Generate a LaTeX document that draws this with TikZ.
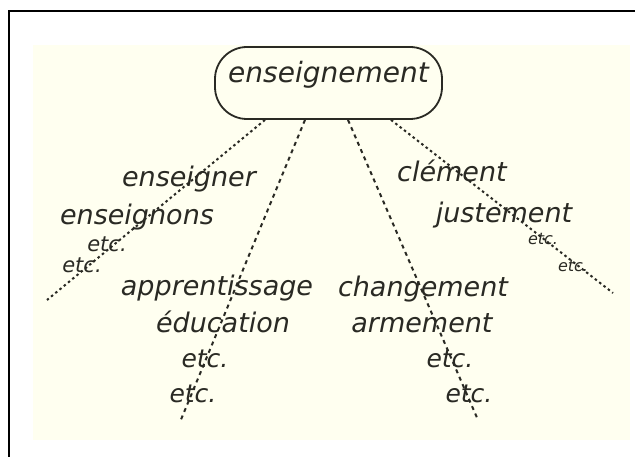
\documentclass[tikz,border=0pt]{standalone}
\usepackage{fontspec}
\newfontfamily\labfont{DejaVu Sans}
\usetikzlibrary{calc}
\definecolor{cream}{RGB}{255,255,240}
\definecolor{ink}{RGB}{42,42,36}
\begin{document}
\begin{tikzpicture}[x=1pt,y=-1pt,
  lab/.style={font=\labfont\itshape\fontsize{27}{30}\selectfont, text=ink, anchor=base, inner sep=0pt},
  midetc/.style={lab, font=\labfont\itshape\fontsize{25}{28}\selectfont},
  leftetc/.style={lab, font=\labfont\itshape\fontsize{21}{23}\selectfont},
  smalletc/.style={lab, font=\labfont\itshape\fontsize{16}{18}\selectfont},
  topbox/.style={draw=ink, line width=1.8pt, rounded corners=32pt, minimum width=227pt, minimum height=72pt,
    font=\labfont\itshape\fontsize{28}{30}\selectfont, text=ink, text height=10pt, text depth=10pt, inner sep=0pt},
  dotline/.style={draw=ink, line width=2pt, dash pattern=on 2.5pt off 3pt},
  dashline/.style={draw=ink, line width=2pt, dash pattern=on 4pt off 4pt}]
\useasboundingbox (0,0) rectangle (635,457);
\fill[cream] (33,45) rectangle (630,440);
\draw[line width=2pt] (9,457) -- (9,11) -- (635,11);

\node[topbox] (top) at (328.5,83) {enseignement};

\coordinate (e1) at (47,300);
\coordinate (e2) at (180,422);
\coordinate (e3) at (478,420);
\coordinate (e4) at (613,293);

\draw[dotline] ($(top.south)+(-63.5,0)$) -- (e1);
\draw[dashline] ($(top.south)+(-23.5,0)$) -- (e2);
\draw[dashline] ($(top.south)+(19.5,0)$) -- (e3);
\draw[dotline] ($(top.south)+(62.5,0)$) -- (e4);

\node[lab] (n1) at (189,187) {enseigner};
\node[lab] (n2) at (137,225) {enseignons};
\node[leftetc] (n3) at (107,252) {etc.};
\node[leftetc] (n4) at (82,273) {etc.};

\node[lab] (n5) at (217,295) {apprentissage};
\node[lab] (n6) at (223,333) {éducation};
\node[midetc] (n7) at (205,367) {etc.};
\node[midetc] (n8) at (193,402) {etc.};

\node[lab] (n9) at (423,297) {changement};
\node[lab] (n10) at (422,333) {armement};
\node[midetc] (n11) at (450,367) {etc.};
\node[midetc] (n12) at (469,402) {etc.};

\node[lab] (n13) at (452,182) {clément};
\node[lab] (n14) at (504,223) {justement};
\node[smalletc] (n15) at (543,245) {etc.};
\node[smalletc] (n16) at (573,272) {etc.};
\end{tikzpicture}
\end{document}
